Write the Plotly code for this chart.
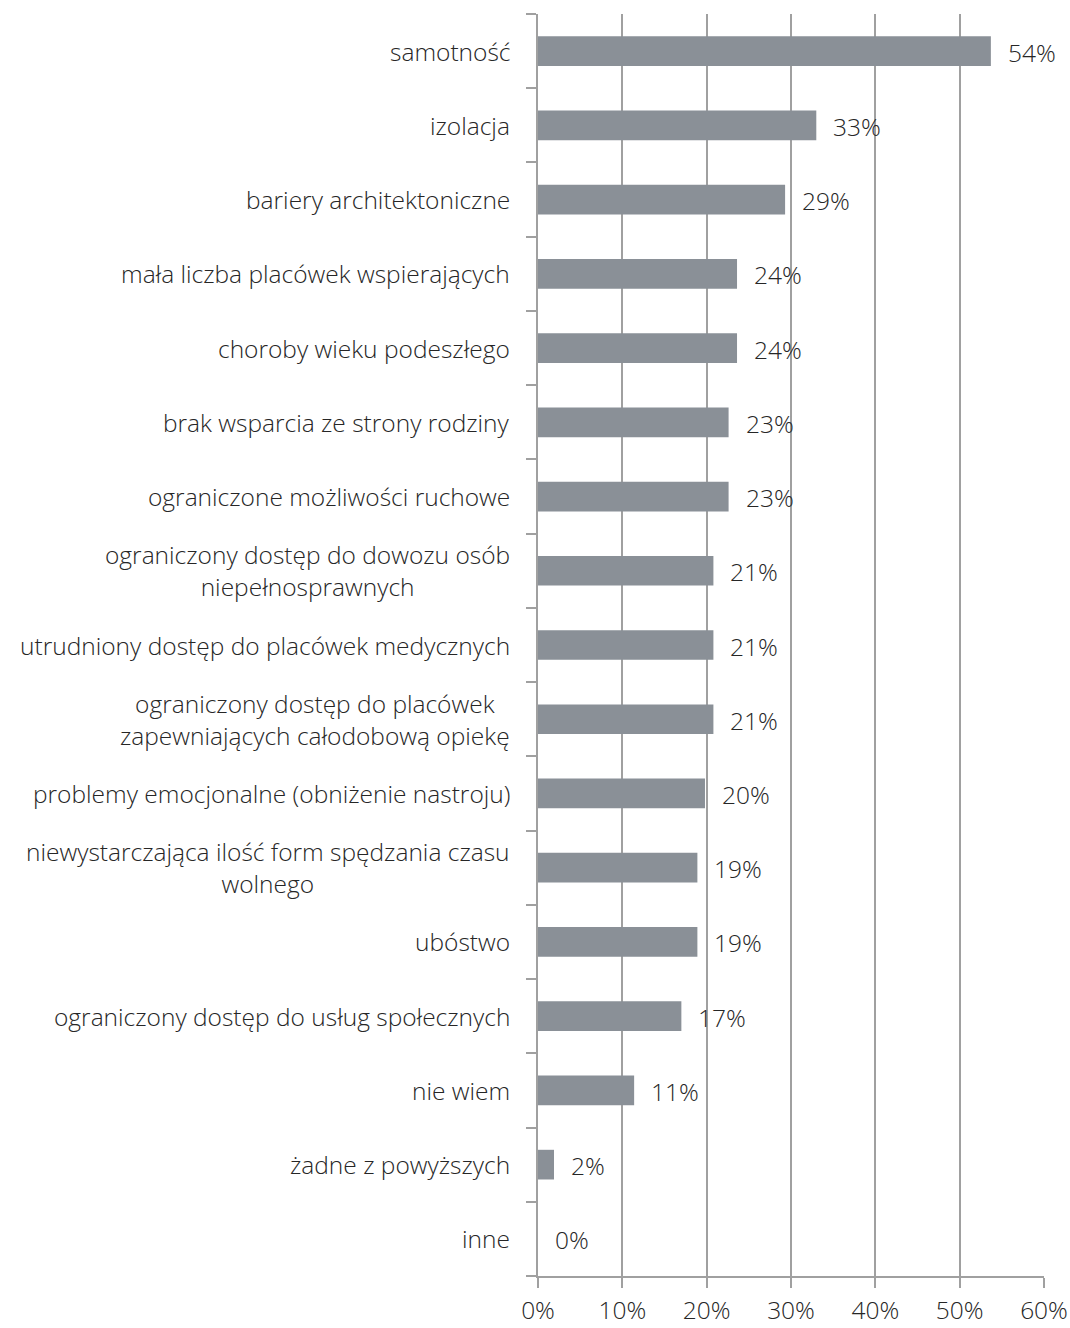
import plotly.graph_objects as go

categories = [
    "samotność",
    "izolacja",
    "bariery architektoniczne",
    "mała liczba placówek wspierających",
    "choroby wieku podeszłego",
    "brak wsparcia ze strony rodziny",
    "ograniczone możliwości ruchowe",
    "ograniczony dostęp do dowozu osób<br>niepełnosprawnych",
    "utrudniony dostęp do placówek medycznych",
    "ograniczony dostęp do placówek<br>zapewniających całodobową opiekę",
    "problemy emocjonalne (obniżenie nastroju)",
    "niewystarczająca ilość form spędzania czasu<br>wolnego",
    "ubóstwo",
    "ograniczony dostęp do usług społecznych",
    "nie wiem",
    "żadne z powyższych",
    "inne",
]
values = [0.537, 0.330, 0.293, 0.236, 0.236, 0.226, 0.226, 0.208, 0.208, 0.208,
          0.198, 0.189, 0.189, 0.170, 0.114, 0.019, 0.0]
labels = ["54%", "33%", "29%", "24%", "24%", "23%", "23%", "21%", "21%", "21%",
          "20%", "19%", "19%", "17%", "11%", "2%", "0%"]
tick_vals = [0, 0.1, 0.2, 0.3, 0.4, 0.5, 0.6]
tick_text = ["0%", "10%", "20%", "30%", "40%", "50%", "60%"]

font_family = "Open Sans, Noto Sans, sans-serif"
text_color = "#262626"
FS = 24.5
grid_color = "#a0a0a0"

fig = go.Figure(go.Bar(
    x=values,
    y=categories,
    orientation="h",
    marker=dict(color="#8A9097", line=dict(width=0)),
    width=0.4,
    cliponaxis=False,
    hoverinfo="x+y",
))

annotations = []
# data labels
for c, v, t in zip(categories, values, labels):
    annotations.append(dict(
        x=v, y=c, xref="x", yref="y", text=t, showarrow=False,
        xanchor="left", yanchor="middle", xshift=15, yshift=-1,
        font=dict(family=font_family, size=FS, color=text_color, weight=300),
    ))
# category labels (centered multi-line like the original)
for c in categories:
    annotations.append(dict(
        x=0, y=c, xref="paper", yref="y", text=c, showarrow=False,
        xanchor="right", yanchor="middle", xshift=-26, align="center",
        font=dict(family=font_family, size=FS, color=text_color, weight=300),
    ))

fig.update_layout(
    width=1070,
    height=1328,
    margin=dict(l=538, r=26, t=14, b=52, autoexpand=False),
    plot_bgcolor="white",
    paper_bgcolor="white",
    showlegend=False,
    bargap=0.6,
    font=dict(family=font_family, size=FS, color=text_color),
    annotations=annotations,
)
fig.update_xaxes(
    range=[0, 0.6],
    tickvals=tick_vals,
    ticktext=tick_text,
    showgrid=True,
    gridcolor=grid_color,
    gridwidth=1.5,
    showline=True,
    linecolor=grid_color,
    linewidth=1.5,
    ticks="outside",
    ticklen=10,
    tickwidth=1.5,
    tickcolor=grid_color,
    ticklabelstandoff=2,
    tickfont=dict(family=font_family, size=FS, color=text_color, weight=300),
    zeroline=False,
    automargin=False,
)
fig.update_yaxes(
    categoryorder="array",
    categoryarray=categories[::-1],
    showline=True,
    linecolor=grid_color,
    linewidth=1.5,
    ticks="outside",
    tickson="boundaries",
    ticklen=10,
    tickwidth=1.5,
    tickcolor=grid_color,
    showticklabels=False,
    showgrid=False,
    automargin=False,
)

fig.write_html(
    "out.html",
    config={"displayModeBar": False},
    post_script="document.body.style.margin='0';document.body.style.overflow='hidden';",
)
